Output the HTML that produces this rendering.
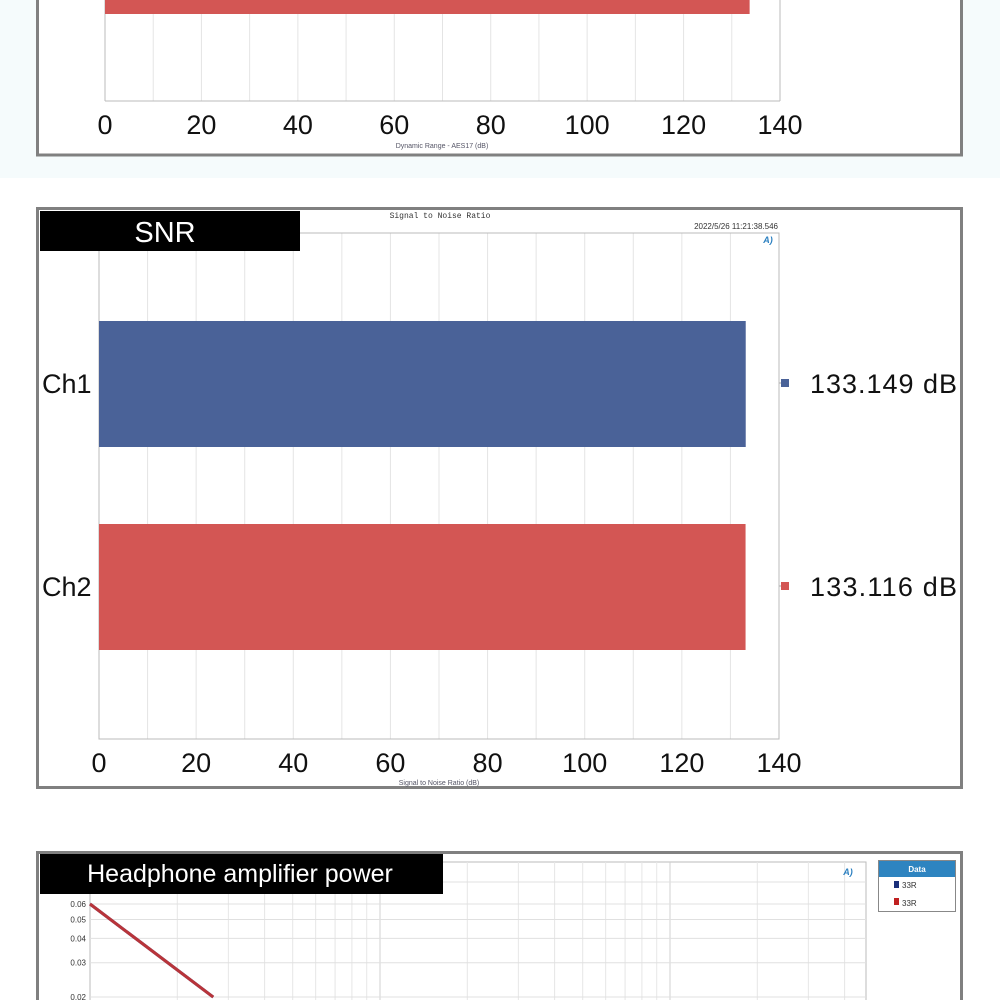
<!DOCTYPE html>
<html><head><meta charset="utf-8"><style>
body{margin:0;width:1000px;height:1000px;overflow:hidden;background:#fff;font-family:"Liberation Sans",sans-serif;position:relative}
.abs{position:absolute}
</style></head><body>
<div class="abs" style="left:0;top:0;width:1000px;height:178px;background:#f5fbfc"></div>
<svg class="abs" style="left:0;top:0" width="1000" height="1000">
<g id="dr"></g>
<g id="snr"></g>
<g id="hp"></g>
</svg>
<script>
const drValues=[133.7];
const snrCats=["Ch1","Ch2"];
const snrValues=[133.149,133.116];
const snrLabels=["133.149 dB","133.116 dB"];
const xTicks=[0,20,40,60,80,100,120,140];
const hpYTicks=[0.06,0.05,0.04,0.03,0.02];
const hpX=[1,2.66];
const hpRed=[0.06,0.02];
const hpBlue=[0.06,0.02];
const colors=["#4a6298","#d35654"];
const NS="http://www.w3.org/2000/svg";
function el(p,t,a,txt){const e=document.createElementNS(NS,t);for(const k in a)e.setAttribute(k,a[k]);if(txt!==undefined)e.textContent=txt;p.appendChild(e);return e;}
// Dynamic range
(function(){
const g=document.getElementById('dr');
el(g,'rect',{x:37.5,y:-10,width:924,height:165,fill:'#fff',stroke:'#808080','stroke-width':3});
const x=v=>105+v/140*675;
for(let v=0;v<=140;v+=10){el(g,'line',{x1:x(v),x2:x(v),y1:0,y2:101,stroke:'#e4e4e4'});}
el(g,'line',{x1:105,x2:105,y1:0,y2:101,stroke:'#bbb'});
el(g,'line',{x1:780,x2:780,y1:0,y2:101,stroke:'#bbb'});
el(g,'line',{x1:105,x2:780,y1:101,y2:101,stroke:'#bbb'});
drValues.forEach(v=>{const r=el(g,'rect',{x:105,y:-20,width:x(v)-105,height:34,fill:colors[1]});

});
xTicks.forEach(v=>{const t=el(g,'text',{x:x(v),y:134,'font-size':27,'text-anchor':'middle',fill:'#111'},v);

});
el(g,'text',{x:442,y:148,'font-size':7,'text-anchor':'middle',fill:'#556'},'Dynamic Range - AES17 (dB)');
})();
// SNR
(function(){
const g=document.getElementById('snr');
el(g,'rect',{x:37.5,y:208.5,width:924,height:579,fill:'#fff',stroke:'#808080','stroke-width':3});
const x=v=>99+v/140*680;
for(let v=0;v<=140;v+=10)el(g,'line',{x1:x(v),x2:x(v),y1:233,y2:739,stroke:'#e4e4e4'});
el(g,'rect',{x:99,y:233,width:680,height:506,fill:'none',stroke:'#bbb'});
el(g,'text',{x:440,y:218,'font-size':8,'text-anchor':'middle','font-family':'Liberation Mono, monospace',fill:'#333'},'Signal to Noise Ratio');
el(g,'text',{x:778,y:229,'font-size':8,'text-anchor':'end',fill:'#333'},'2022/5/26 11:21:38.546');
el(g,'text',{x:768,y:243,'font-size':9,'text-anchor':'middle',fill:'#2a7fc0','font-weight':'bold','font-style':'italic'},'A)');
const bandTop=[321,524];
snrValues.forEach((v,i)=>{
 const r=el(g,'rect',{x:99,y:bandTop[i],width:x(v)-99,height:126,fill:colors[i]});
 
 
 const c=el(g,'text',{x:42,y:bandTop[i]+72,'font-size':27,fill:'#111'},snrCats[i]);
 
 
 el(g,'line',{x1:779,x2:784,y1:bandTop[i]+62,y2:bandTop[i]+62,stroke:'#aaa'});
 el(g,'rect',{x:781,y:bandTop[i]+58,width:8,height:8,fill:colors[i]});
 const vl=el(g,'text',{x:810,y:bandTop[i]+72,'font-size':27,fill:'#111',textLength:147},snrLabels[i]);
 
 
});
xTicks.forEach(v=>{const t=el(g,'text',{x:x(v),y:772,'font-size':27,'text-anchor':'middle',fill:'#111'},v);

});
el(g,'text',{x:439,y:785,'font-size':7,'text-anchor':'middle',fill:'#556'},'Signal to Noise Ratio (dB)');
el(g,'rect',{x:40,y:211,width:260,height:40,fill:'#000'});
el(g,'text',{x:165,y:242,'font-size':29,'text-anchor':'middle',fill:'#fff'},'SNR');
})();
// Headphone power
(function(){
const g=document.getElementById('hp');
el(g,'rect',{x:37.5,y:852.5,width:924,height:160,fill:'#fff',stroke:'#808080','stroke-width':3});
const y=v=>904+(Math.log10(0.06)-Math.log10(v))*195;
const x=v=>90+Math.log10(v)*290;
el(g,'rect',{x:90,y:862,width:776,height:150,fill:'#fff',stroke:'#bbb'});
for(let d=0;d<3;d++)for(let k=1;k<10;k++){const xv=x(k*Math.pow(10,d));if(xv>90&&xv<866)el(g,'line',{x1:xv,x2:xv,y1:862,y2:1000,stroke:k===1?'#d0d0d0':'#e6e6e6'});}
el(g,'line',{x1:90,x2:866,y1:882,y2:882,stroke:'#e0e0e0'});
hpYTicks.forEach(v=>{el(g,'line',{x1:90,x2:866,y1:y(v),y2:y(v),stroke:'#e0e0e0'});
const t=el(g,'text',{x:86,y:y(v)+3,'font-size':8,'text-anchor':'end',fill:'#333'},v);

});
el(g,'text',{x:848,y:875,'font-size':9,'text-anchor':'middle',fill:'#2a7fc0','font-weight':'bold','font-style':'italic'},'A)');
const pb=hpX.map((v,i)=>x(v)+','+y(hpBlue[i])).join(' ');
const pr=hpX.map((v,i)=>x(v)+','+y(hpRed[i])).join(' ');
const lb=el(g,'polyline',{points:pb,fill:'none',stroke:'#2d4b8e','stroke-width':3});


const lr=el(g,'polyline',{points:pr,fill:'none',stroke:'#b8343a','stroke-width':3});


el(g,'rect',{x:878.5,y:860.5,width:77,height:51,fill:'#fff',stroke:'#888'});
el(g,'rect',{x:879,y:861,width:76,height:16,fill:'#2e84c0'});
el(g,'text',{x:917,y:872,'font-size':8,'text-anchor':'middle',fill:'#fff','font-weight':'bold'},'Data');
el(g,'rect',{x:894,y:881,width:5,height:7,fill:'#1a2f7a'});
el(g,'text',{x:902,y:888,'font-size':8,fill:'#333'},'33R');
el(g,'rect',{x:894,y:898,width:5,height:7,fill:'#c02020'});
el(g,'text',{x:902,y:906,'font-size':8,fill:'#333'},'33R');
el(g,'rect',{x:40,y:854,width:403,height:40,fill:'#000'});
el(g,'text',{x:240,y:882,'font-size':25,'text-anchor':'middle',fill:'#fff'},'Headphone amplifier power');
})();
</script>
</body></html>
